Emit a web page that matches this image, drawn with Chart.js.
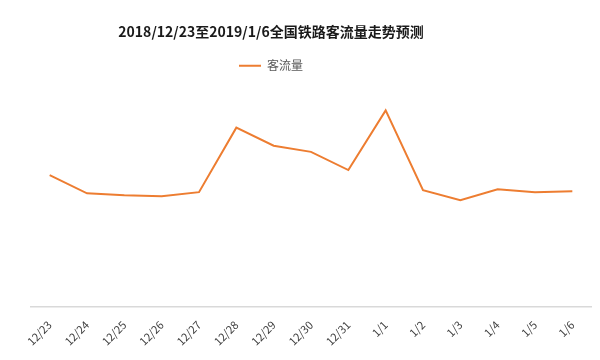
<!DOCTYPE html>
<html lang="zh">
<head>
  <meta charset="UTF-8">
  <title>全国铁路客流量走势预测</title>
  <script src="https://cdn.jsdelivr.net/npm/chart.js"></script>
  <style>
    body { margin: 0; background: #fff; }
    #wrap { width: 600px; height: 360px; }
  </style>
</head>
<body>
  <div id="wrap"><canvas id="flowChart"></canvas></div>

  <script>
    const days = ['12/23', '12/24', '12/25', '12/26', '12/27', '12/28', '12/29', '12/30',
                  '12/31', '1/1', '1/2', '1/3', '1/4', '1/5', '1/6'];
    // 客流量 (万人次, 估读)
    const flow = [678, 584, 574, 569, 590, 923, 830, 798, 704, 1012, 600, 548, 605, 590, 595];

    const font = "'Noto Sans CJK SC', 'Noto Sans', sans-serif";

    // title + legend sit a bit left of the page centre in the original
    const shiftHeader = {
      id: 'shiftHeader',
      afterLayout(chart) {
        const dx = -40;
        [chart.titleBlock, chart.legend].forEach(b => {
          if (b) { b.left += dx; b.right += dx; }
        });
      }
    };

    new Chart(document.getElementById('flowChart'), {
      type: 'line',
      data: {
        labels: days,
        datasets: [{
          label: '客流量',
          data: flow,
          borderColor: '#ED7D31',
          backgroundColor: '#ED7D31',
          borderWidth: 2,
          pointRadius: 0,
          tension: 0,
          fill: false
        }]
      },
      options: {
        responsive: true,
        maintainAspectRatio: false,
        animation: false,
        layout: { padding: { left: 31, right: 9, top: 19, bottom: 0 } },
        plugins: {
          title: {
            display: true,
            text: '2018/12/23至2019/1/6全国铁路客流量走势预测',
            color: '#1a1a1a',
            font: { family: font, size: 14, weight: 'bold' },
            padding: { top: 4, bottom: 10 }
          },
          legend: {
            labels: {
              usePointStyle: true,
              pointStyle: 'line',
              pointStyleWidth: 22,
              color: '#595959',
              font: { family: font, size: 12 }
            }
          },
          tooltip: { enabled: false }
        },
        scales: {
          x: {
            offset: true,
            grid: { display: false, drawTicks: false },
            border: { color: '#d9d9d9', width: 1.5 },
            ticks: {
              color: '#404040',
              font: { family: font, size: 11 },
              minRotation: 45,
              maxRotation: 45,
              padding: 12
            }
          },
          y: {
            display: false,
            min: 0,
            max: 1160
          }
        }
      },
      plugins: [shiftHeader]
    });
  </script>
</body>
</html>
